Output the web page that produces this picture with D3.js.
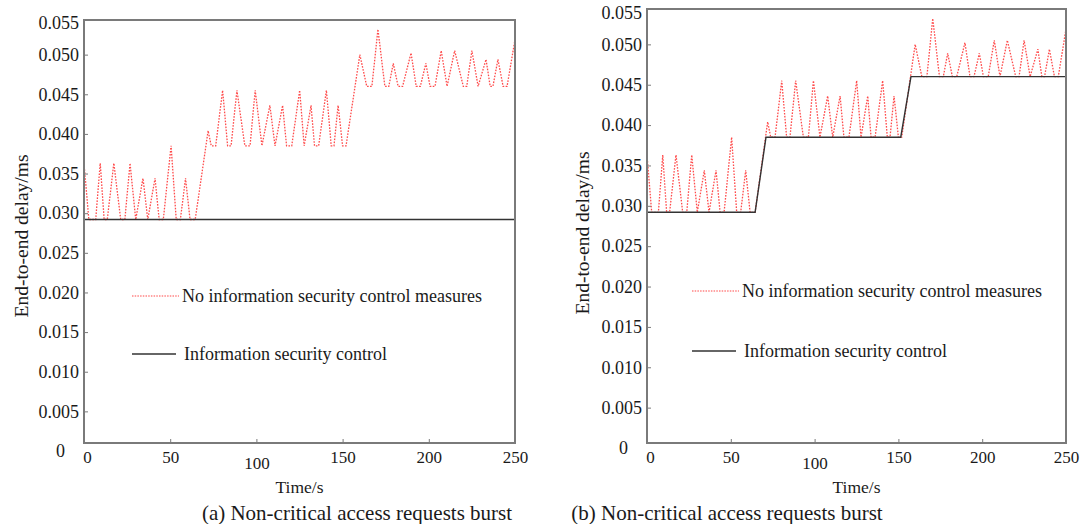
<!DOCTYPE html>
<html>
<head>
<meta charset="utf-8">
<script src="https://cdn.jsdelivr.net/npm/d3@7"></script>
<style>
  body { margin: 0; background: #fff; }
  svg { display: block; }
  text { font-family: "Liberation Serif", "Times New Roman", serif; fill: #1a1a1a; }
</style>
</head>
<body>
<svg id="chart" width="1081" height="524"></svg>
<script>
// time (s) and delay (ms)
const timeS = [0, 2.8, 6.8, 9.4, 11.7, 13.5, 17.3, 21.3, 23.7, 26.7, 30, 34.2, 37, 41.2, 43.6, 46, 50.5, 53.5, 55.9, 58.9, 61.5, 64.5,
    72, 73.8, 76.4, 80.4, 83.3, 85.3, 88.7, 93.3, 96.3, 99.3, 103.2, 107.8, 110.8, 115.2, 117.5, 120.5, 125.1, 127.7, 131.7, 133.7,
    136.1, 140.6, 143.4, 145, 147.4, 150, 152, 160, 164, 167, 170.5, 174.5, 176.8, 179.4, 182.2, 184.8, 189.7, 192.7, 195.1, 198.3,
    200.7, 203.6, 207.2, 210.6, 215, 220, 222, 225, 228.6, 233.2, 235.6, 237.2, 240.1, 243.1, 245.4, 250];
const delayNoControl = [0.0363, 0.0292, 0.0292, 0.0363, 0.0292, 0.0292, 0.0363, 0.0292, 0.0292, 0.0363, 0.0292, 0.0344, 0.0292, 0.0344, 0.0292, 0.0292, 0.0385, 0.0292, 0.0292, 0.0344, 0.0292, 0.0292,
    0.0404, 0.0385, 0.0385, 0.0455, 0.0385, 0.0385, 0.0455, 0.0385, 0.0385, 0.0455, 0.0385, 0.0436, 0.0385, 0.0436, 0.0385, 0.0385, 0.0455, 0.0385, 0.0436, 0.0385,
    0.0385, 0.0455, 0.0385, 0.0385, 0.0436, 0.0385, 0.0385, 0.0500, 0.0460, 0.0460, 0.0532, 0.0460, 0.0460, 0.0489, 0.0460, 0.0460, 0.0502, 0.0460, 0.0460, 0.0489,
    0.0460, 0.0460, 0.0505, 0.0460, 0.0505, 0.0460, 0.0460, 0.0505, 0.0460, 0.0494, 0.0460, 0.0460, 0.0494, 0.0460, 0.0460, 0.0519];

const controlTimeA = [0, 250];
const controlDelayA = [0.0292, 0.0292];
const controlTimeB = [0, 64.5, 71, 151.4, 157.5, 250];
const controlDelayB = [0.0292, 0.0292, 0.0385, 0.0385, 0.0460, 0.0460];

const xTicks = [0, 50, 100, 150, 200, 250];
const yTicks = [0, 0.005, 0.010, 0.015, 0.020, 0.025, 0.030, 0.035, 0.040, 0.045, 0.050, 0.055];
const legendLabels = ["No information security control measures", "Information security control"];
const captions = ["(a) Non-critical access requests burst", "(b) Non-critical access requests burst"];

const svg = d3.select("#chart");
const red = "#ff2a2a";
const dark = "#333";
const frameColor = "#7a7a7a";

function drawPanel(p) {
    const x = d3.scaleLinear().domain([0, 250]).range([p.left, p.right]);
    const y = d3.scaleLinear().domain([0, 0.055]).range(p.yRange);
    const g = svg.append("g");

    const line = d3.line().x(d => x(d[0])).y(d => y(d[1]));

    g.append("path")
        .datum(d3.zip(timeS, delayNoControl))
        .attr("d", line)
        .attr("fill", "none")
        .attr("stroke", red)
        .attr("stroke-width", 1.3)
        .attr("stroke-dasharray", "1.6,1.4")
        .attr("opacity", 0.85);

    g.append("path")
        .datum(d3.zip(p.ctrlT, p.ctrlD))
        .attr("d", line)
        .attr("fill", "none")
        .attr("stroke", dark)
        .attr("stroke-width", 1.4);

    // axes with inward ticks
    const yAxis = g.append("g")
        .attr("transform", `translate(${p.left},0)`)
        .call(d3.axisLeft(y).tickValues(yTicks).tickSizeInner(-4).tickSizeOuter(0).tickPadding(5)
            .tickFormat(d => d === 0 ? "0" : d3.format(".3f")(d)));
    yAxis.select(".domain").remove();
    yAxis.selectAll(".tick line").attr("stroke", frameColor)
        .filter(d => y(d) > p.bottom - 1 || y(d) < p.top + 1).remove();
    yAxis.selectAll(".tick text").attr("font-size", 18).attr("fill", "#1a1a1a")
        .attr("font-family", "Liberation Serif");
    yAxis.selectAll(".tick").filter(d => d === 0.055).select("text").attr("dy", p.topLabelDy);
    yAxis.selectAll(".tick").filter(d => d === 0).select("text").attr("dx", -14);

    const xAxis = g.append("g")
        .attr("transform", `translate(0,${p.bottom})`)
        .call(d3.axisBottom(x).tickValues(xTicks).tickSizeInner(-4).tickSizeOuter(0).tickPadding(8));
    xAxis.select(".domain").remove();
    xAxis.selectAll(".tick line").attr("stroke", frameColor)
        .filter(d => d === 0 || d === 250).remove();
    xAxis.selectAll(".tick text").attr("font-size", 17).attr("fill", "#1a1a1a")
        .attr("font-family", "Liberation Serif");
    xAxis.selectAll(".tick").filter(d => d === 100).select("text").attr("dy", "1.05em");
    xAxis.selectAll(".tick").filter(d => d === 0).select("text").attr("dx", 3);

    // frame
    g.append("rect")
        .attr("x", p.left).attr("y", p.top)
        .attr("width", p.right - p.left).attr("height", p.bottom - p.top)
        .attr("fill", "none").attr("stroke", frameColor).attr("stroke-width", 2);

    // axis titles
    g.append("text")
        .attr("transform", `translate(${p.yTitleX},${p.yTitleY}) rotate(-90)`)
        .attr("text-anchor", "middle").attr("dy", "0.35em")
        .attr("font-size", 19.5)
        .text("End-to-end delay/ms");
    g.append("text")
        .attr("x", (p.left + p.right) / 2).attr("y", 487)
        .attr("text-anchor", "middle").attr("dy", "0.35em")
        .attr("font-size", 17.5)
        .text("Time/s");
    g.append("text")
        .attr("x", p.captionX).attr("y", 513)
        .attr("text-anchor", "middle").attr("dy", "0.35em")
        .attr("font-size", 21)
        .text(p.caption);

    // legend
    const lg = g.append("g");
    lg.append("line")
        .attr("x1", p.legX).attr("x2", p.legX + 47).attr("y1", p.legY1).attr("y2", p.legY1)
        .attr("stroke", red).attr("stroke-width", 1.2).attr("stroke-dasharray", "1.5,1.2").attr("opacity", 0.85);
    lg.append("text")
        .attr("x", p.legX + 50).attr("y", p.legY1).attr("dy", "0.35em")
        .attr("font-size", 18).text(legendLabels[0]);
    lg.append("line")
        .attr("x1", p.legX).attr("x2", p.legX + 44).attr("y1", p.legY2).attr("y2", p.legY2)
        .attr("stroke", dark).attr("stroke-width", 1.4);
    lg.append("text")
        .attr("x", p.legX + 52).attr("y", p.legY2).attr("dy", "0.35em")
        .attr("font-size", 18).text(legendLabels[1]);
}

drawPanel({
    left: 84, right: 515, top: 20, bottom: 443, yRange: [451, 15], topLabelDy: "0.76em",
    ctrlT: controlTimeA, ctrlD: controlDelayA,
    yTitleX: 21, yTitleY: 236, caption: captions[0], captionX: 357,
    legX: 132, legY1: 296, legY2: 354
});

drawPanel({
    left: 647, right: 1066, top: 9, bottom: 443, yRange: [448, 4], topLabelDy: "0.82em",
    ctrlT: controlTimeB, ctrlD: controlDelayB,
    yTitleX: 582, yTitleY: 233, caption: captions[1], captionX: 727,
    legX: 692, legY1: 291, legY2: 351
});
</script>
</body>
</html>
